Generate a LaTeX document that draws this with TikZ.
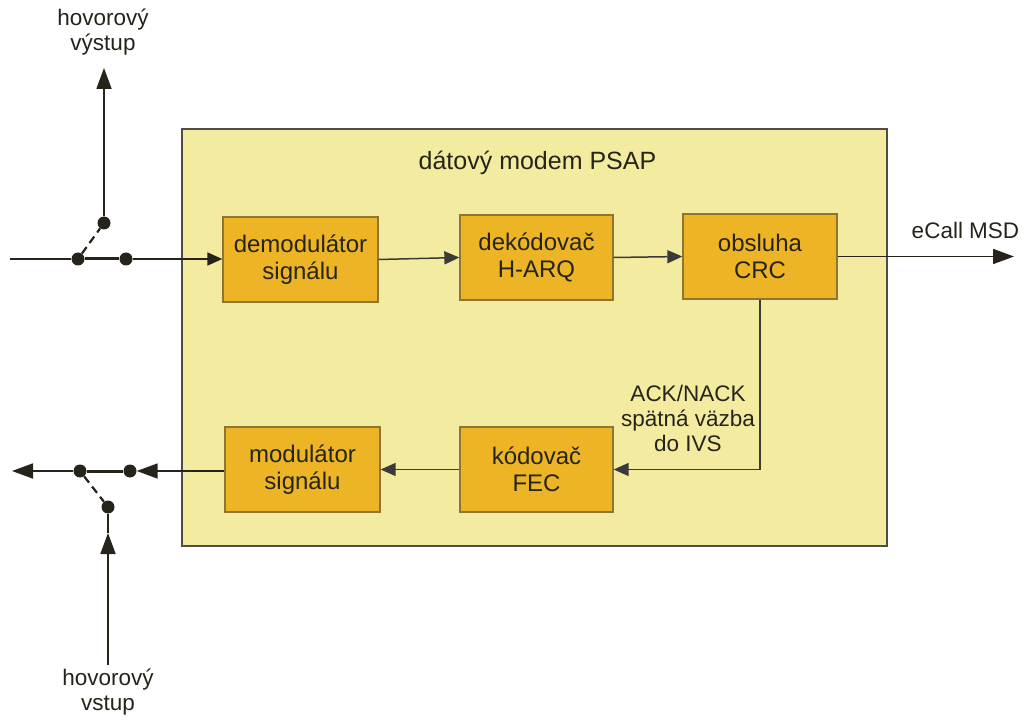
\documentclass[tikz,border=0pt]{standalone}
\usepackage{fontspec}
\setmainfont{Liberation Sans}
\usetikzlibrary{arrows.meta}
\definecolor{modemfill}{HTML}{F3EB9F}
\definecolor{modemdraw}{HTML}{4E4E46}
\definecolor{blockfill}{HTML}{EDB526}
\definecolor{blockdraw}{HTML}{8E7632}
\definecolor{ink}{HTML}{26241A}
\definecolor{wire}{HTML}{3A3A3A}
\tikzset{
  outer/.style={draw=modemdraw, line width=1.8pt, fill=modemfill, anchor=north west, inner sep=0pt},
  block/.style={draw=blockdraw, line width=1.3pt, fill=blockfill, align=center, inner sep=0pt,
    font=\fontsize{24}{27}\selectfont, text=ink},
  lbl/.style={align=center, font=\fontsize{22.5}{25}\selectfont, text=ink},
  titlelbl/.style={font=\fontsize{25}{28}\selectfont, text=ink},
  wireline/.style={draw=wire, line width=1.5pt},
  flow/.style={wireline, -{Triangle[length=15pt,width=13pt]}},
  bigflow/.style={draw=ink, line width=1.8pt, -{Triangle[length=21pt,width=15pt]}},
  bridge/.style={draw=ink, line width=3pt},
  dashline/.style={draw=ink, line width=2.2pt, dash pattern=on 8pt off 5pt},
  dot/.style={circle, fill=ink, inner sep=0pt, minimum size=13pt}
}
\begin{document}
\begin{tikzpicture}[x=1pt,y=-1pt]
\useasboundingbox (0,0) rectangle (1026,722);

% data modem frame
\node[outer, minimum width=705pt, minimum height=417pt] (modem) at (181,128) {};
\node[titlelbl] (title) at (537.5,163) {dátový modem PSAP};

% processing blocks
\node[block, minimum width=155pt, minimum height=85pt] (demod) at (300.5,259.5) {demodulátor\\signálu};
\node[block, minimum width=153pt, minimum height=85pt] (dekod) at (536.5,257.5) {dekódovač\\H-ARQ};
\node[block, minimum width=154pt, minimum height=85pt] (crc) at (760,256.5) {obsluha\\CRC};
\node[block, minimum width=155pt, minimum height=85pt] (mod) at (302.5,469.5) {modulátor\\signálu};
\node[block, minimum width=153pt, minimum height=85pt] (kod) at (536.5,469.5) {kódovač\\FEC};

% receive-side switch
\coordinate (inL) at (10,259);
\node[dot] (s1) at (78,259) {};
\node[dot] (s2) at (126,259) {};
\node[dot] (s3) at (104,223) {};
\coordinate (outTop) at (104,68);
\node[lbl] (outlbl) at (103,32) {hovorový\\výstup};

\draw[wireline, draw=ink, line width=1.8pt] (inL) -- (s1);
\draw[bridge] (s1) -- (s2);
\draw[flow, draw=ink, line width=1.8pt] (s2) -- (s2 -| demod.west);
\draw[dashline] (s1) -- (s3);
\draw[bigflow] (s3) -- (outTop);

% transmit-side switch
\coordinate (outL) at (12,471);
\node[dot] (s4) at (80,471) {};
\node[dot] (s5) at (130,471) {};
\node[dot] (s6) at (108,507) {};
\coordinate (inB) at (108,665);
\coordinate (inBtip) at (108,533);
\node[lbl] (inlbl) at (108,692) {hovorový\\vstup};

\draw[bigflow] (mod.west |- s5) -- (s5.east);
\draw[bridge] (s5) -- (s4);
\draw[bigflow] (s4) -- (outL);
\draw[dashline] (s4) -- (s6);
\draw[bigflow] (inB) -- (inBtip);
\draw[wireline, draw=ink, line width=1.8pt] (inBtip) -- (s6);

% data path
\draw[flow] (demod.east) -- (dekod.west);
\draw[flow] (dekod.east) -- (crc.west);
\coordinate (eOut) at (1014,256.5);
\draw[bigflow] (crc.east) -- (eOut);
\node[lbl] (ecall) at (965.5,230) {eCall MSD};

% feedback path
\draw[flow] (crc.south) |- (kod.east);
\node[lbl] (ack) at (688,418) {ACK/NACK\\spätná väzba\\do IVS};
\draw[flow] (kod.west) -- (mod.east);
\end{tikzpicture}
\end{document}
